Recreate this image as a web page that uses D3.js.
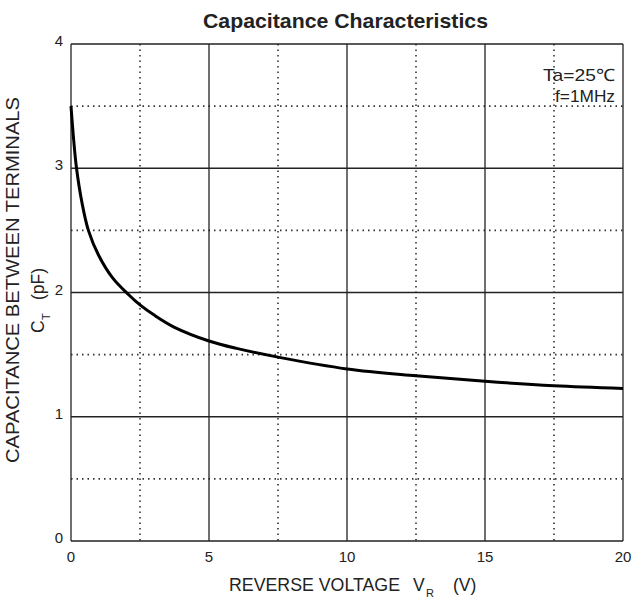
<!DOCTYPE html>
<html>
<head>
<meta charset="utf-8">
<script src="https://cdn.jsdelivr.net/npm/d3@7"></script>
<style>
  body { margin: 0; background: #fff; }
  text { font-family: "Liberation Sans", Arial, sans-serif; fill: #222; }
</style>
</head>
<body>
<svg id="chart" width="633" height="601"></svg>
<script>
// values
var voltage = [0, 0.1, 0.2, 0.4, 0.63, 1.0, 1.5, 2.1, 2.5, 3.0, 3.75, 5, 6, 7.5, 10, 12.5, 15, 17.5, 20];
var capacitance = [3.50, 3.22, 3.0, 2.72, 2.5, 2.30, 2.12, 1.98, 1.90, 1.82, 1.72, 1.61, 1.55, 1.48, 1.385, 1.33, 1.285, 1.25, 1.228];
var xMajor = [0, 5, 10, 15, 20];
var xMinor = [2.5, 7.5, 12.5, 17.5];
var yMajor = [0, 1, 2, 3, 4];
var yMinor = [0.5, 1.5, 2.5, 3.5];

var svg = d3.select('#chart');
var plotLeft = 71, plotRight = 623, plotTop = 44, plotBottom = 541;

var x = d3.scaleLinear().domain([0, 20]).range([plotLeft, plotRight]);
var y = d3.scaleLinear().domain([0, 4]).range([plotBottom, plotTop]);

// dotted minor grid
svg.selectAll('.vmin').data(xMinor).enter().append('line')
    .attr('x1', function (d) { return x(d); }).attr('x2', function (d) { return x(d); })
    .attr('y1', plotTop).attr('y2', plotBottom)
    .attr('stroke', '#333').attr('stroke-width', 1.6).attr('stroke-dasharray', '1.5,4');
svg.selectAll('.hmin').data(yMinor).enter().append('line')
    .attr('x1', plotLeft).attr('x2', plotRight)
    .attr('y1', function (d) { return y(d); }).attr('y2', function (d) { return y(d); })
    .attr('stroke', '#333').attr('stroke-width', 1.6).attr('stroke-dasharray', '1.5,4');

// solid major grid
svg.selectAll('.vmaj').data(xMajor).enter().append('line')
    .attr('x1', function (d) { return x(d); }).attr('x2', function (d) { return x(d); })
    .attr('y1', plotTop).attr('y2', plotBottom)
    .attr('stroke', '#222').attr('stroke-width', 1.3);
svg.selectAll('.hmaj').data(yMajor).enter().append('line')
    .attr('x1', plotLeft).attr('x2', plotRight)
    .attr('y1', function (d) { return y(d); }).attr('y2', function (d) { return y(d); })
    .attr('stroke', '#222').attr('stroke-width', 1.3);

// tick labels
svg.selectAll('.xt').data(xMajor).enter().append('text')
    .attr('x', function (d) { return x(d); }).attr('y', 562)
    .attr('text-anchor', 'middle').attr('font-size', 15)
    .text(function (d) { return d; });
svg.selectAll('.yt').data(yMajor).enter().append('text')
    .attr('x', 63).attr('y', function (d) { return y(d) + 2; })
    .attr('text-anchor', 'end').attr('font-size', 15)
    .text(function (d) { return d; });

// curve
var pts = voltage.map(function (v, i) { return [v, capacitance[i]]; });
var line = d3.line()
    .x(function (d) { return x(d[0]); })
    .y(function (d) { return y(d[1]); })
    .curve(d3.curveCatmullRom.alpha(0.5));
svg.append('path').datum(pts)
    .attr('d', line)
    .attr('fill', 'none').attr('stroke', '#000').attr('stroke-width', 3);

// title
svg.append('text').attr('x', 203).attr('y', 28)
    .attr('font-size', 21).attr('font-weight', 'bold')
    .attr('textLength', 285).attr('lengthAdjust', 'spacingAndGlyphs')
    .text('Capacitance Characteristics');

// conditions
svg.append('text').attr('x', 543).attr('y', 81).attr('font-size', 17)
    .attr('textLength', 72).attr('lengthAdjust', 'spacingAndGlyphs').text('Ta=25\u2103');
svg.append('text').attr('x', 555).attr('y', 102).attr('font-size', 17)
    .attr('textLength', 60).attr('lengthAdjust', 'spacingAndGlyphs').text('f=1MHz');

// x axis label
var xl = svg.append('text').attr('y', 591).attr('font-size', 17.5);
xl.append('tspan').attr('x', 229).attr('textLength', 171).attr('lengthAdjust', 'spacingAndGlyphs').text('REVERSE VOLTAGE');
xl.append('tspan').attr('x', 413).text('V');
xl.append('tspan').attr('x', 426).attr('dy', 6).attr('font-size', 11).text('R');
xl.append('tspan').attr('x', 453).attr('dy', -6).text('(V)');

// y axis label
svg.append('text')
    .attr('transform', 'translate(19,463) rotate(-90)')
    .attr('font-size', 17.5)
    .attr('textLength', 366).attr('lengthAdjust', 'spacingAndGlyphs')
    .text('CAPACITANCE BETWEEN TERMINALS');
var yl = svg.append('text').attr('transform', 'translate(44,0) rotate(-90)').attr('font-size', 17.5);
yl.append('tspan').attr('x', -333).text('C');
yl.append('tspan').attr('x', -320).attr('dy', 6).attr('font-size', 11).text('T');
yl.append('tspan').attr('x', -300).attr('dy', -6).text('(pF)');
</script>
</body>
</html>
